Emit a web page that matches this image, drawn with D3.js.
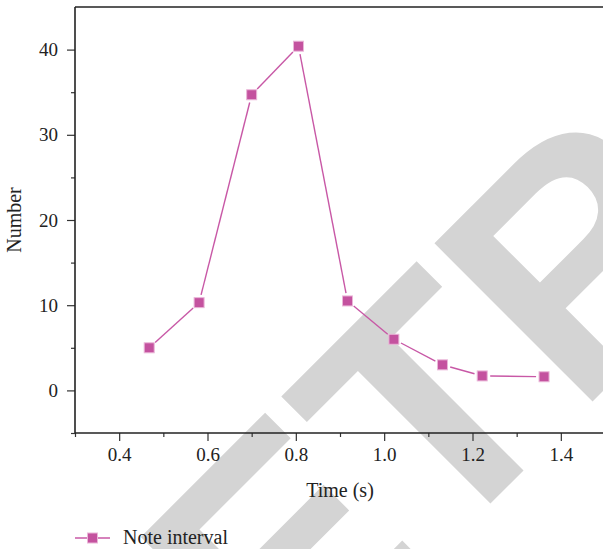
<!DOCTYPE html>
<html lang="en">
<head>
    <meta charset="UTF-8">
    <title>Note interval</title>
    <script src="https://d3js.org/d3.v7.min.js"></script>
    <style>
        body { margin: 0; background: #fff; }
        text { font-family: "Liberation Serif", "DejaVu Serif", serif; fill: #222; }
    </style>
</head>
<body>
    <div id="chart"></div>
    <script>
        // data
        const timeValues = [0.468, 0.581, 0.700, 0.806, 0.917, 1.022, 1.132, 1.222, 1.362];
        const noteCounts = [5.0, 10.3, 34.7, 40.4, 10.5, 6.0, 3.0, 1.7, 1.6];
        const xTicks = [0.4, 0.6, 0.8, 1.0, 1.2, 1.4];
        const xMinorTicks = [0.3, 0.5, 0.7, 0.9, 1.1, 1.3, 1.5];
        const yTicks = [0, 10, 20, 30, 40];
        const yMinorTicks = [-5, 5, 15, 25, 35];
        const seriesName = "Note interval";

        const width = 603, height = 549;
        const margin = { top: 7, right: -2, bottom: 116, left: 75 };
        const innerW = width - margin.left - margin.right;
        const innerH = height - margin.top - margin.bottom;
        const lineColor = "#c858a6";
        const markColor = "#c4529f";

        const svg = d3.select("#chart").append("svg")
            .attr("width", width)
            .attr("height", height);

        // RETRACTED watermark sits under everything
        const wm = svg.append("text")
            .text("RETRACTED")
            .style("font-family", "'Liberation Sans', Arial, sans-serif")
            .style("font-weight", "bold")
            .style("font-size", "325px")
            .style("fill", "#d4d4d4");
        const node = wm.node();
        const tStart = node.getSubStringLength(0, 2);
        const tAdv = node.getSubStringLength(2, 1);
        const off = tStart + tAdv / 2;
        const cx = 507 - off * Math.SQRT1_2, cy = 487 + off * Math.SQRT1_2;
        wm.attr("transform", "translate(" + cx + "," + cy + ") rotate(-45)");

        const g = svg.append("g")
            .attr("transform", "translate(" + margin.left + "," + margin.top + ")");

        const x = d3.scaleLinear().domain([0.3, 1.5]).range([0, innerW]);
        const y = d3.scaleLinear().domain([-5, 45]).range([innerH, 0]);

        // minor ticks
        g.append("g")
            .attr("transform", "translate(0," + innerH + ")")
            .call(d3.axisBottom(x).tickValues(xMinorTicks).tickSize(4).tickFormat(""))
            .call(a => a.select(".domain").remove())
            .call(a => a.selectAll("line").attr("stroke", "#333").attr("stroke-width", 1.2));
        g.append("g")
            .call(d3.axisLeft(y).tickValues(yMinorTicks).tickSize(4).tickFormat(""))
            .call(a => a.select(".domain").remove())
            .call(a => a.selectAll("line").attr("stroke", "#333").attr("stroke-width", 1.2));

        // major ticks
        g.append("g")
            .attr("transform", "translate(0," + innerH + ")")
            .call(d3.axisBottom(x).tickValues(xTicks).tickSize(8).tickPadding(7).tickFormat(d3.format(".1f")))
            .call(a => a.select(".domain").remove())
            .call(a => a.selectAll("line").attr("stroke", "#333").attr("stroke-width", 1.2))
            .call(a => a.selectAll("text").style("font-size", "19px").attr("fill", "#222")
                .style("font-family", "'Liberation Serif', serif"));
        g.append("g")
            .call(d3.axisLeft(y).tickValues(yTicks).tickSize(8).tickPadding(9))
            .call(a => a.select(".domain").remove())
            .call(a => a.selectAll("line").attr("stroke", "#333").attr("stroke-width", 1.2))
            .call(a => a.selectAll("text").style("font-size", "19px").attr("fill", "#222")
                .style("font-family", "'Liberation Serif', serif"));

        // frame: left, bottom, top
        g.append("line").attr("x1", 0).attr("x2", 0).attr("y1", 0).attr("y2", innerH)
            .attr("stroke", "#222").attr("stroke-width", 1.6);
        g.append("line").attr("x1", 0).attr("x2", innerW).attr("y1", innerH).attr("y2", innerH)
            .attr("stroke", "#222").attr("stroke-width", 1.6);
        g.append("line").attr("x1", 0).attr("x2", innerW).attr("y1", 0).attr("y2", 0)
            .attr("stroke", "#222").attr("stroke-width", 1.6);

        // line segments with a small gap at each marker
        const pts = timeValues.map((t, i) => [x(t), y(noteCounts[i])]);
        const gap = 8;
        const segs = d3.pairs(pts).map(([a, b]) => {
            const dx = b[0] - a[0], dy = b[1] - a[1];
            const len = Math.sqrt(dx * dx + dy * dy);
            const ux = dx / len, uy = dy / len;
            return [a[0] + ux * gap, a[1] + uy * gap, b[0] - ux * gap, b[1] - uy * gap];
        });
        g.selectAll(".seg").data(segs).enter().append("line")
            .attr("class", "seg")
            .attr("x1", d => d[0]).attr("y1", d => d[1])
            .attr("x2", d => d[2]).attr("y2", d => d[3])
            .attr("stroke", lineColor).attr("stroke-width", 1.4);

        const ms = 10;
        g.selectAll(".mark").data(pts).enter().append("rect")
            .attr("class", "mark")
            .attr("x", d => d[0] - ms / 2).attr("y", d => d[1] - ms / 2)
            .attr("width", ms).attr("height", ms)
            .attr("fill", markColor)
            .attr("stroke", "#eab6d8").attr("stroke-width", 1);

        // axis titles
        svg.append("text")
            .attr("x", margin.left + innerW / 2).attr("y", 497)
            .attr("text-anchor", "middle")
            .style("font-size", "20px")
            .text("Time (s)");
        svg.append("text")
            .attr("transform", "translate(21," + (margin.top + innerH / 2) + ") rotate(-90)")
            .attr("text-anchor", "middle")
            .style("font-size", "20px")
            .text("Number");

        // legend
        const lg = svg.append("g").attr("transform", "translate(75,538)");
        lg.append("line").attr("x1", 0).attr("x2", 35).attr("y1", 0).attr("y2", 0)
            .attr("stroke", lineColor).attr("stroke-width", 1.4);
        lg.append("rect").attr("x", 17.5 - ms / 2).attr("y", -ms / 2)
            .attr("width", ms).attr("height", ms)
            .attr("fill", markColor).attr("stroke", "#eab6d8").attr("stroke-width", 1);
        lg.append("text").attr("x", 48).attr("y", 6)
            .style("font-size", "20px")
            .text(seriesName);
    </script>
</body>
</html>
